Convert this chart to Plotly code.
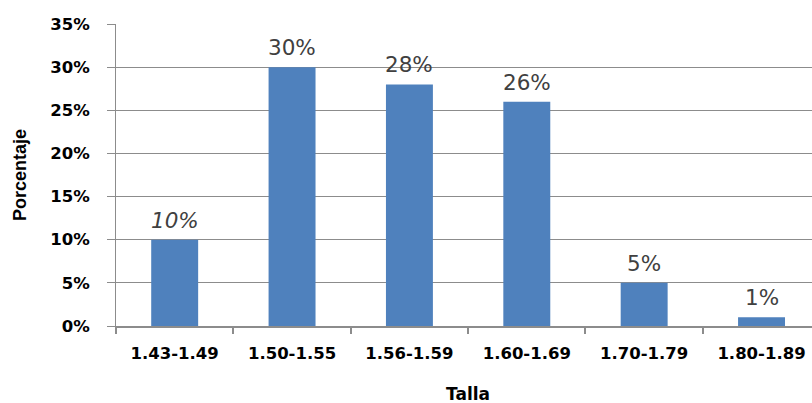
import plotly.graph_objects as go

# Height-range categories and the share of people in each
tallas = ["1.43-1.49", "1.50-1.55", "1.56-1.59", "1.60-1.69", "1.70-1.79", "1.80-1.89"]
porcentajes = [0.10, 0.30, 0.28, 0.26, 0.05, 0.01]
etiquetas = ["10%", "30%", "28%", "26%", "5%", "1%"]
cursiva = [True, False, False, False, False, False]

y_ticks = [0, 0.05, 0.10, 0.15, 0.20, 0.25, 0.30, 0.35]
y_tick_text = ["0%", "5%", "10%", "15%", "20%", "25%", "30%", "35%"]

BAR_COLOR = "#4F81BD"
GRID_COLOR = "#8C8C8C"
TICK_FONT = dict(family="DejaVu Sans", size=16.5, color="#000000")

fig = go.Figure(
    go.Bar(
        x=tallas,
        y=porcentajes,
        width=0.4,
        marker=dict(color=BAR_COLOR, line=dict(width=0)),
        hoverinfo="x+y",
    )
)

# Value labels above each bar
for cat, val, lab, it in zip(tallas, porcentajes, etiquetas, cursiva):
    fig.add_annotation(
        x=cat, y=val, xref="x", yref="y",
        text=f"<i>{lab}</i>" if it else lab,
        showarrow=False, yanchor="bottom", yshift=5,
        font=dict(family="DejaVu Sans", size=21.5, color="#404040"),
    )

# Axis titles
fig.add_annotation(
    x=-0.5, xref="x", y=0.5, yref="paper",
    text="<b>Porcentaje</b>", textangle=-90, showarrow=False,
    xshift=-96, font=dict(family="Liberation Sans", size=18, color="#000000"),
)
fig.add_annotation(
    x=2.5, xref="x", y=0, yref="paper", yanchor="middle",
    text="<b>Talla</b>", showarrow=False, yshift=-68,
    font=dict(family="DejaVu Sans", size=17, color="#000000"),
)

fig.update_layout(
    width=812, height=403,
    margin=dict(l=116, r=0, t=24, b=77),
    paper_bgcolor="white", plot_bgcolor="white",
    showlegend=False,
    bargap=0.6,
)
fig.update_xaxes(
    type="category",
    range=[-0.5, 5.43],
    tickson="boundaries",
    ticks="outside", ticklen=6, tickcolor=GRID_COLOR, tickwidth=2,
    showline=True, linecolor=GRID_COLOR, linewidth=2,
    showgrid=False,
    tickfont=dict(**TICK_FONT),
    tickvals=tallas,
    ticktext=[f"<b>{t}</b>" for t in tallas],
    ticklabelstandoff=11,
)
fig.update_yaxes(
    range=[0, 0.35],
    tickvals=y_ticks,
    ticktext=[f"<b>{t}</b>" for t in y_tick_text],
    ticks="outside", ticklen=8, tickcolor=GRID_COLOR, tickwidth=1,
    showline=True, linecolor=GRID_COLOR, linewidth=1,
    showgrid=True, gridcolor=GRID_COLOR, gridwidth=1,
    zeroline=False,
    tickfont=dict(**TICK_FONT),
    ticklabelstandoff=14,
)

fig.write_html("out.html")
